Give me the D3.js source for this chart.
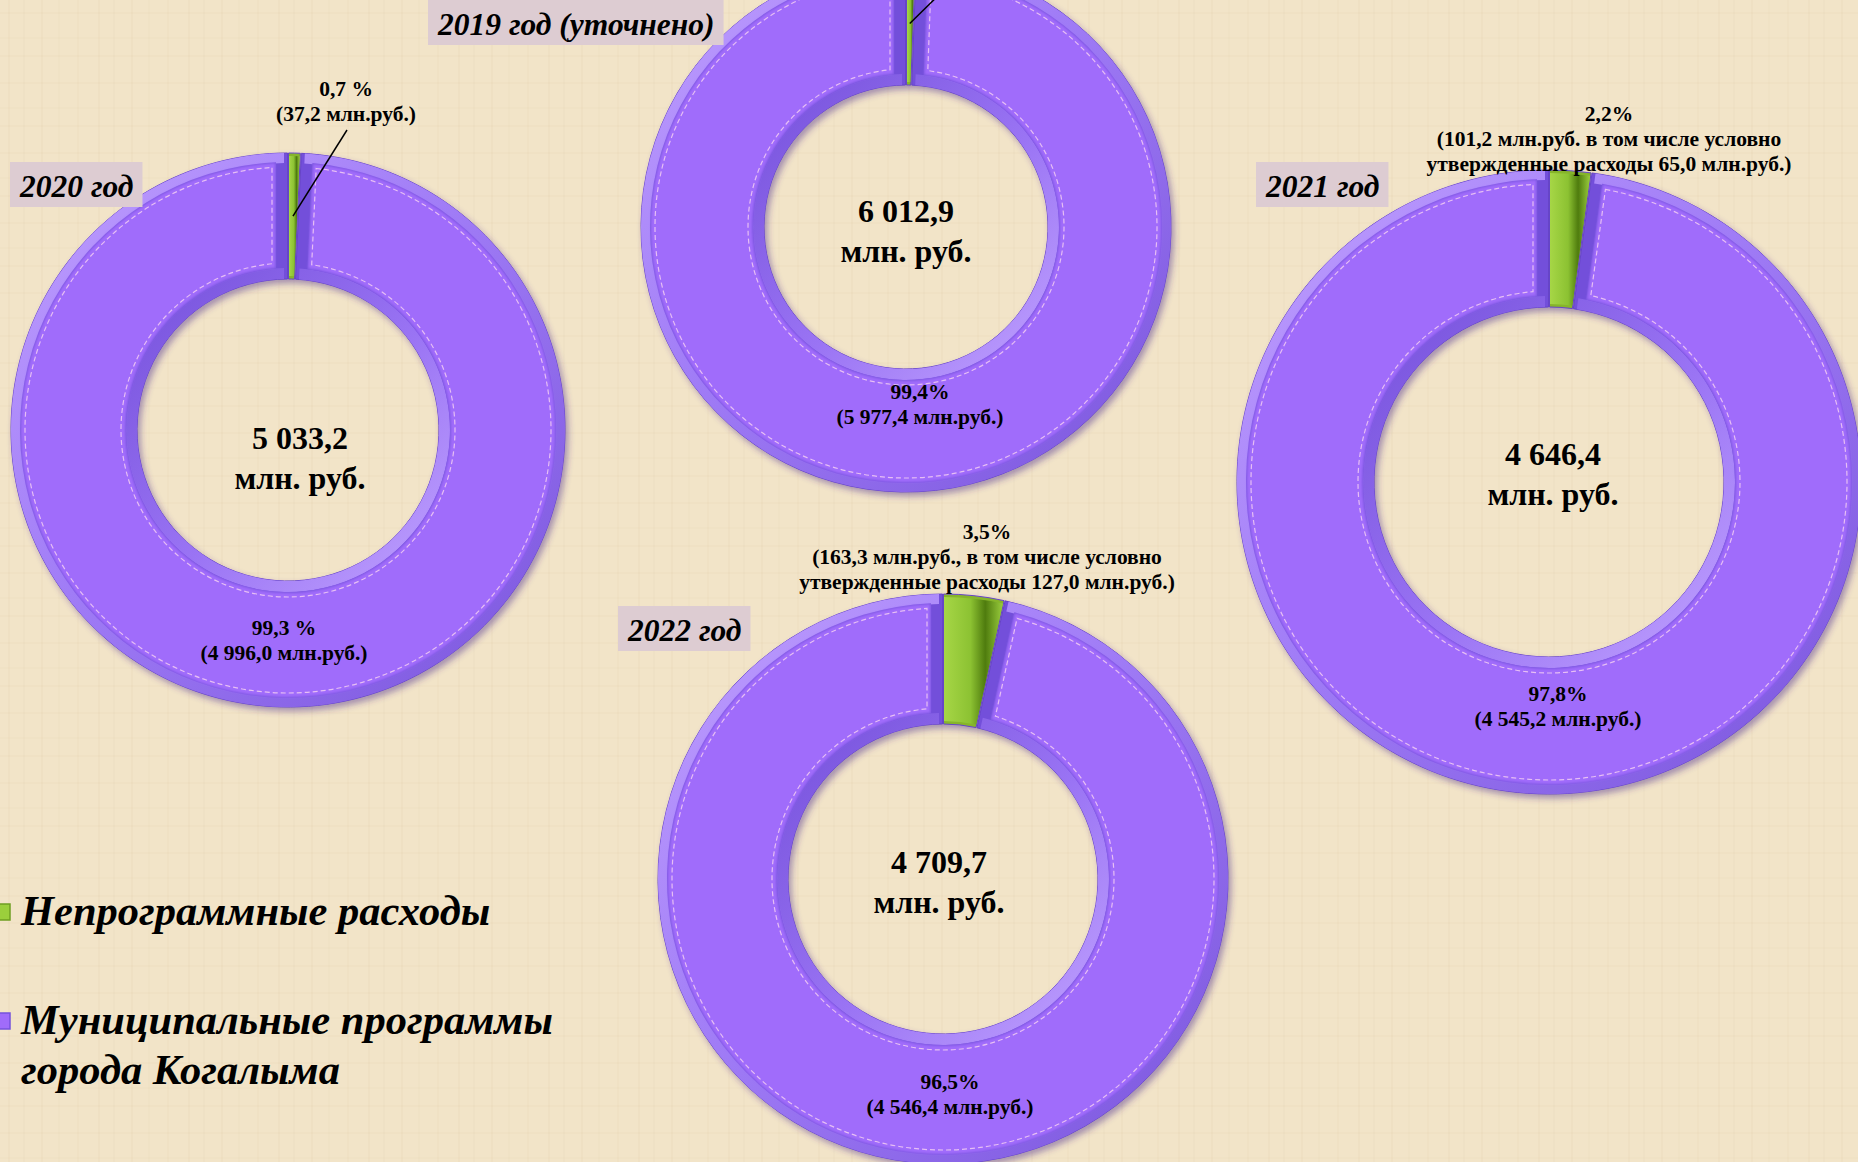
<!DOCTYPE html>
<html>
<head>
<meta charset="utf-8">
<title>Структура расходов бюджета</title>
<style>
body { margin: 0; background: #f2e4c8; overflow: hidden; }
svg { display: block; }
text { font-family: "Liberation Serif", "Times New Roman", serif; fill: #000; }
.val { font-weight: bold; font-size: 21.5px; }
.total { font-weight: bold; font-size: 32px; }
.year { font-weight: bold; font-style: italic; font-size: 31.5px; }
.legend { font-weight: bold; font-style: italic; font-size: 42.5px; }
</style>
</head>
<body>
<script src="https://d3js.org/d3.v7.min.js"></script>
<script>
// values (млн. руб.)
var years = ["2019 год (уточнено)", "2020 год", "2021 год", "2022 год"];
var totals = [6012.9, 5033.2, 4646.4, 4709.7];
var programs = [5977.4, 4996.0, 4545.2, 4546.4];
var nonProgram = [35.5, 37.2, 101.2, 163.3];
var programPct = ["99,4%", "99,3 %", "97,8%", "96,5%"];
var nonProgramText = [
  [],
  ["0,7 %", "(37,2 млн.руб.)"],
  ["2,2%", "(101,2 млн.руб. в том числе условно", "утвержденные расходы 65,0 млн.руб.)"],
  ["3,5%", "(163,3 млн.руб., в том числе условно", "утвержденные расходы 127,0 млн.руб.)"]
];
var legendLabels = [["Непрограммные расходы"], ["Муниципальные программы", "города Когалыма"]];

var width = 1858, height = 1162;

// where each donut sits on the slide
var layout = [
  {cx: 906, cy: 227, R: 265, r: 142, year: [438, 35], total: [906, 222], prog: [920, 392], non: null, leader: [952, -18]},
  {cx: 288, cy: 430, R: 277, r: 151, year: [20, 197], total: [300, 449], prog: [284, 628], non: [346, 89], leader: [347, 130]},
  {cx: 1549, cy: 482, R: 312, r: 175, year: [1266, 197], total: [1553, 465], prog: [1558, 694], non: [1609, 114], leader: null},
  {cx: 943, cy: 879, R: 285, r: 155, year: [628, 641], total: [939, 873], prog: [950, 1082], non: [987, 532], leader: null}
];

var ru = d3.formatLocale({decimal: ",", thousands: " ", grouping: [3], currency: ["", ""]});
var fmt = ru.format(",.1f");

var svg = d3.select("body").append("svg")
    .attr("width", width)
    .attr("height", height);

var defs = svg.append("defs");

// paper texture
var pat = defs.append("pattern")
    .attr("id", "paper")
    .attr("width", 90).attr("height", 70)
    .attr("patternUnits", "userSpaceOnUse");
pat.append("rect").attr("width", 90).attr("height", 70).attr("fill", "#f2e4c8");
[[8, 0.05], [23, 0.035], [41, 0.05], [58, 0.03], [77, 0.045]].forEach(function(p) {
  pat.append("rect").attr("x", p[0]).attr("y", 0).attr("width", 2).attr("height", 70)
    .attr("fill", "#b89a6a").attr("opacity", p[1]);
});
[[12, 0.04], [37, 0.03], [55, 0.04]].forEach(function(p) {
  pat.append("rect").attr("x", 0).attr("y", p[0]).attr("width", 90).attr("height", 2)
    .attr("fill", "#b89a6a").attr("opacity", p[1]);
});
svg.append("rect").attr("width", width).attr("height", height).attr("fill", "url(#paper)");

var shadow = defs.append("filter").attr("id", "shadow")
    .attr("x", "-10%").attr("y", "-10%").attr("width", "125%").attr("height", "125%");
shadow.append("feDropShadow")
    .attr("dx", 3).attr("dy", 4).attr("stdDeviation", 3)
    .attr("flood-color", "#4b2f90").attr("flood-opacity", 0.45);

var soft = defs.append("filter").attr("id", "soft");
soft.append("feGaussianBlur").attr("stdDeviation", 1.2);

function gradient(id, stops, x1, y1, x2, y2) {
  var g = defs.append("linearGradient").attr("id", id)
      .attr("x1", x1).attr("y1", y1).attr("x2", x2).attr("y2", y2);
  stops.forEach(function(s) {
    g.append("stop").attr("offset", s[0]).attr("stop-color", s[1]);
  });
}
gradient("rimOut", [[0, "#c0a0ff"], [0.45, "#a07cf6"], [1, "#7954dc"]], 0, 0, 1, 1);
gradient("rimIn", [[0, "#7450da"], [0.55, "#9a74f4"], [1, "#c2a4ff"]], 0, 0, 1, 1);
gradient("greenFace", [[0, "#a6d646"], [0.45, "#8cc232"], [0.7, "#4f7c0e"], [1, "#9acd3e"]], 0, 0, 1, 0);

var colors = {
  purple: {base: "#7350da", face: "#a06cfb"},
  green: {base: "#86b52c", face: "url(#greenFace)"}
};

var pie = d3.pie().sort(null).value(function(d) { return d.value; });

layout.forEach(function(L, i) {
  var data = pie([
    {key: "green", value: nonProgram[i]},
    {key: "purple", value: programs[i]}
  ]);

  var g = svg.append("g").attr("transform", "translate(" + L.cx + "," + L.cy + ")");

  function ring(outInset, inInset, pad) {
    return d3.arc()
        .outerRadius(L.R - outInset)
        .innerRadius(L.r + inInset)
        .padRadius(L.R)
        .padAngle(pad / L.R);
  }

  var base = ring(0, 0, 1);
  var outerBand = ring(0, L.R - L.r - 10, 8);
  var innerBand = ring(L.R - L.r - 11, 0, 8);
  var face = ring(9, 11, 24);
  var edge = ring(10, 12, 26);
  var line = ring(14, 16, 32);
  var gFace = ring(3, 3, 2);

  // base slices with shadow
  g.append("g").attr("filter", "url(#shadow)")
    .selectAll("path").data(data).enter().append("path")
      .attr("d", base)
      .attr("fill", function(d) { return colors[d.data.key].base; })
      .attr("stroke", "#6644c8").attr("stroke-width", 1);

  var purple = data.filter(function(d) { return d.data.key == "purple"; });
  var green = data.filter(function(d) { return d.data.key == "green"; });

  g.selectAll(".ob").data(purple).enter().append("path")
      .attr("d", outerBand).attr("fill", "url(#rimOut)");
  g.selectAll(".ib").data(purple).enter().append("path")
      .attr("d", innerBand).attr("fill", "url(#rimIn)");
  g.selectAll(".face").data(purple).enter().append("path")
      .attr("d", face).attr("fill", "#7e58e2");
  g.selectAll(".edge").data(purple).enter().append("path")
      .attr("d", edge).attr("fill", colors.purple.face).attr("filter", "url(#soft)");
  g.selectAll(".hl").data(purple).enter().append("path")
      .attr("d", line).attr("fill", "none")
      .attr("stroke", "#f2cdf2").attr("stroke-width", 1.2)
      .attr("stroke-dasharray", "5 3").attr("opacity", 0.85);

  g.selectAll(".gf").data(green).enter().append("path")
      .attr("d", gFace).attr("fill", colors.green.face);

  // leader line to the small slice
  if (L.leader) {
    var c = d3.arc().outerRadius(L.R).innerRadius(L.r).centroid(green[0]);
    svg.append("line")
        .attr("x1", L.leader[0]).attr("y1", L.leader[1])
        .attr("x2", L.cx + c[0]).attr("y2", L.cy + c[1])
        .attr("stroke", "#000").attr("stroke-width", 1.5);
  }

  // year caption in a tinted box
  var yt = svg.append("text").attr("class", "year")
      .attr("x", L.year[0]).attr("y", L.year[1])
      .text(years[i]);
  var bb = yt.node().getBBox();
  svg.insert("rect", function() { return yt.node(); })
      .attr("x", bb.x - 9).attr("y", L.year[1] - 35)
      .attr("width", bb.width + 18).attr("height", 45)
      .attr("fill", "#ddccd2");

  // total in the hole
  var tt = svg.append("text").attr("class", "total").attr("text-anchor", "middle");
  tt.append("tspan").attr("x", L.total[0]).attr("y", L.total[1]).text(fmt(totals[i]));
  tt.append("tspan").attr("x", L.total[0]).attr("y", L.total[1] + 40).text("млн. руб.");

  // programmes label
  var pt = svg.append("text").attr("class", "val").attr("text-anchor", "middle");
  pt.append("tspan").attr("x", L.prog[0]).attr("y", L.prog[1] + 7).text(programPct[i]);
  pt.append("tspan").attr("x", L.prog[0]).attr("y", L.prog[1] + 32).text("(" + fmt(programs[i]) + " млн.руб.)");

  // non-programme label
  if (L.non) {
    var nt = svg.append("text").attr("class", "val").attr("text-anchor", "middle");
    nonProgramText[i].forEach(function(s, k) {
      nt.append("tspan").attr("x", L.non[0]).attr("y", L.non[1] + 7 + k * 25).text(s);
    });
  }
});

// legend
var legendColors = [["#9bcf3c", "#6f9e22"], ["#a06cfa", "#7652dc"]];
var legendY = [925, 1034];
legendLabels.forEach(function(lines, i) {
  svg.append("rect")
      .attr("x", -8).attr("y", legendY[i] - 21)
      .attr("width", 18).attr("height", 16)
      .attr("fill", legendColors[i][0])
      .attr("stroke", legendColors[i][1]).attr("stroke-width", 1.5);
  var lt = svg.append("text").attr("class", "legend");
  lines.forEach(function(s, k) {
    lt.append("tspan").attr("x", 21).attr("y", legendY[i] + k * 50).text(s);
  });
});
</script>
</body>
</html>
